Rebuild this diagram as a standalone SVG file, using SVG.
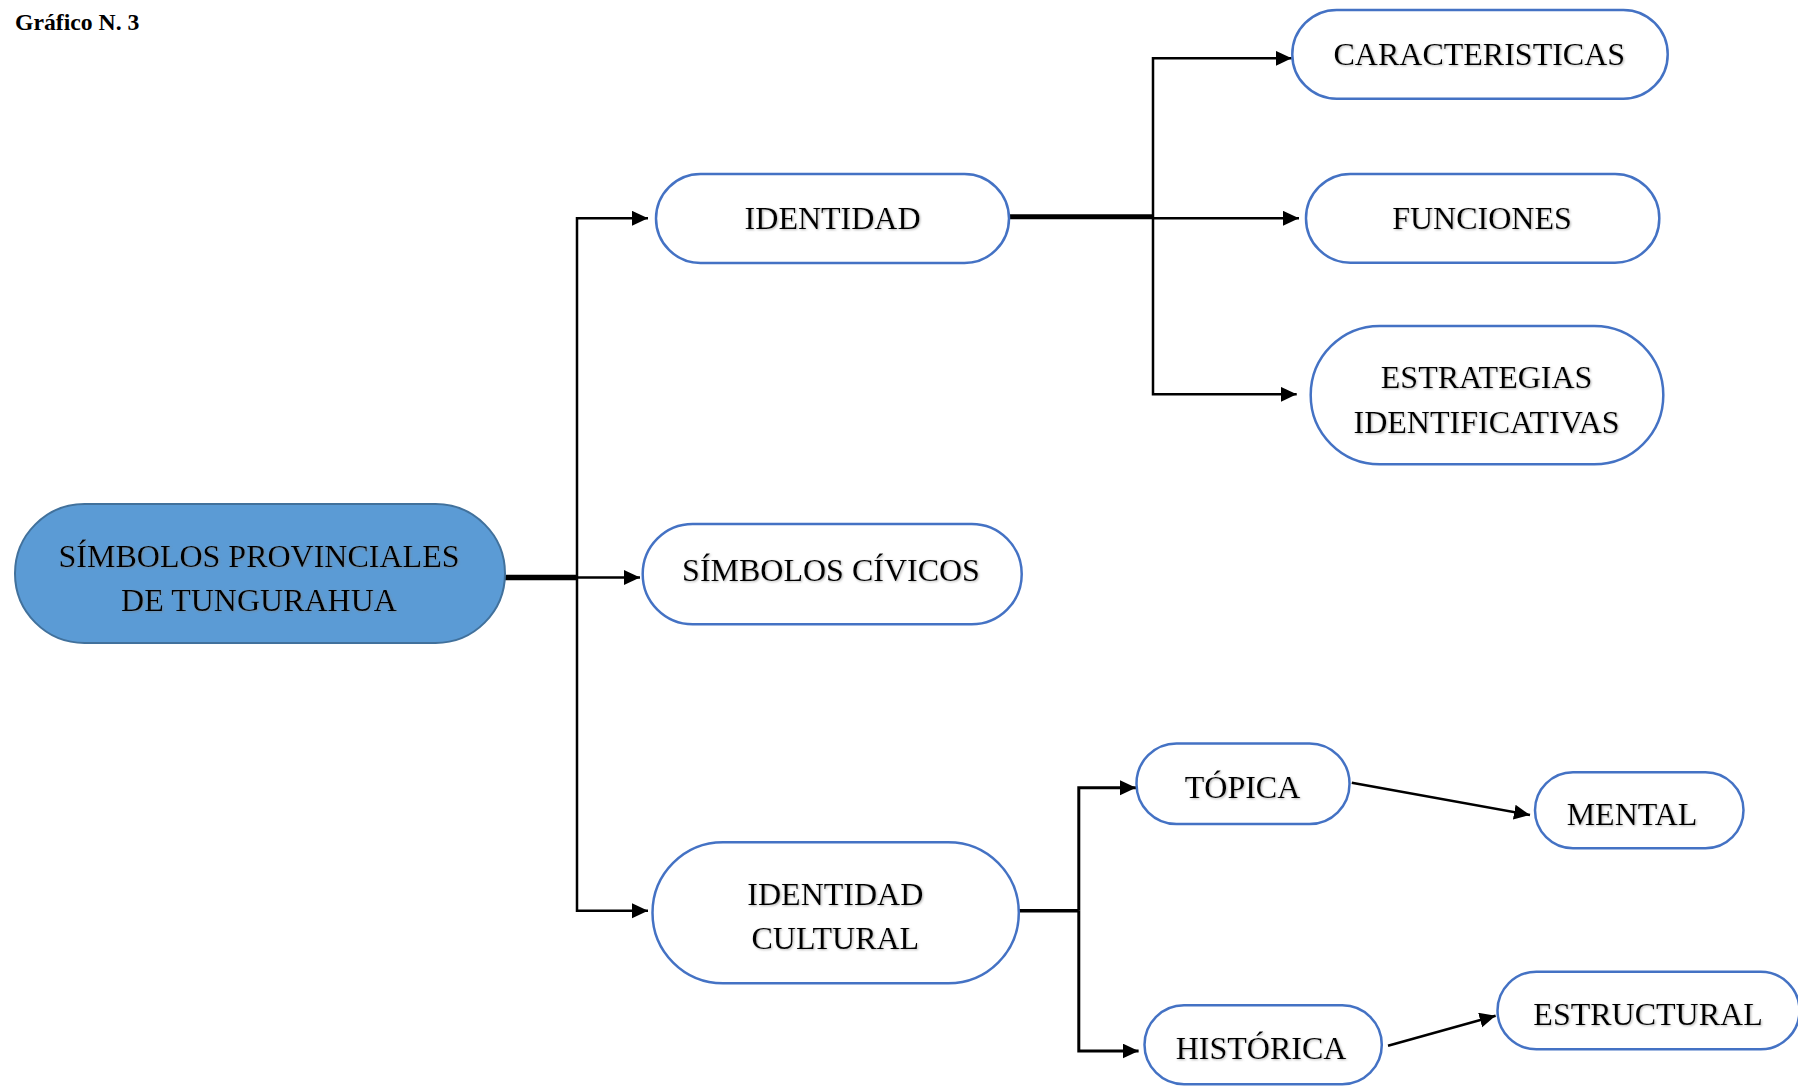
<svg xmlns="http://www.w3.org/2000/svg" width="1798" height="1086" viewBox="0 0 1798 1086">
<defs>
<marker id="arr" markerUnits="userSpaceOnUse" markerWidth="17" markerHeight="16" refX="16" refY="7.5" orient="auto">
<path d="M0,0 L16,7.5 L0,15 z" fill="#000"/>
</marker>
<filter id="sh" x="-5%" y="-20%" width="110%" height="140%">
<feDropShadow dx="1" dy="1" stdDeviation="0.8" flood-color="#7f7f7f" flood-opacity="0.6"/>
</filter>
</defs>
<style>
.node{fill:#fff;stroke:#4472C4;stroke-width:2.5}
.root{fill:#5B9BD5;stroke:#41719C;stroke-width:2}
.lbl{font-family:"Liberation Serif","Times New Roman",serif;font-size:32px;fill:#000;text-anchor:middle;filter:url(#sh)}
.thin{fill:none;stroke:#000;stroke-width:2.5}
.thick{fill:none;stroke:#000;stroke-width:5.5}
.arrow{marker-end:url(#arr)}
.title{font-family:"Liberation Serif","Times New Roman",serif;font-size:23.7px;font-weight:bold;fill:#000}
</style>
<rect width="1798" height="1086" fill="#fff"/>
<text class="title" x="15" y="30">Gráfico N. 3</text>

<g id="connectors">
<path class="thick" d="M505,577.5 H577"/>
<path class="thin arrow" d="M577,577.5 H640"/>
<path class="thin arrow" d="M577,577.5 V218.3 H648"/>
<path class="thin arrow" d="M577,577.5 V910.7 H648"/>
<path class="thick" d="M1009,216.8 H1153" style="stroke-width:5"/>
<path class="thin arrow" d="M1153,217 V58.3 H1291.7"/>
<path class="thin arrow" d="M1153,218.3 H1299"/>
<path class="thin arrow" d="M1153,217 V394.3 H1296.7"/>
<path class="thin" d="M1019,910.8 H1078.8" style="stroke-width:3.5"/>
<path class="thin arrow" d="M1078.8,910.8 V787.7 H1136" style="stroke-width:3"/>
<path class="thin arrow" d="M1078.8,910.8 V1051 H1138.6" style="stroke-width:3"/>
<path class="thin arrow" d="M1351.8,782.7 L1530,815"/>
<path class="thin arrow" d="M1388,1045.7 L1495.6,1015.7"/>
</g>

<g id="root">
<rect class="root" x="15" y="504" width="490" height="139" rx="69.5"/>
<text class="lbl" x="259" y="567">SÍMBOLOS PROVINCIALES</text>
<text class="lbl" x="259" y="610.7">DE TUNGURAHUA</text>
</g>

<g id="identidad">
<rect class="node" x="656" y="174" width="353" height="89" rx="44.5"/>
<text class="lbl" x="832.6" y="229">IDENTIDAD</text>
</g>

<g id="simbolos-civicos">
<rect class="node" x="642.7" y="524" width="379" height="100.3" rx="50"/>
<text class="lbl" x="831" y="581">SÍMBOLOS CÍVICOS</text>
</g>

<g id="identidad-cultural">
<rect class="node" x="652.5" y="842.3" width="366.3" height="141" rx="70.5"/>
<text class="lbl" x="835.3" y="905">IDENTIDAD</text>
<text class="lbl" x="835.3" y="949">CULTURAL</text>
</g>

<g id="caracteristicas">
<rect class="node" x="1292.3" y="10" width="375.4" height="88.7" rx="44.3"/>
<text class="lbl" x="1479.3" y="65">CARACTERISTICAS</text>
</g>

<g id="funciones">
<rect class="node" x="1306" y="174" width="353.3" height="88.7" rx="44.3"/>
<text class="lbl" x="1482" y="229">FUNCIONES</text>
</g>

<g id="estrategias">
<rect class="node" x="1310.7" y="326" width="352.6" height="138.3" rx="69"/>
<text class="lbl" x="1486.6" y="387.7">ESTRATEGIAS</text>
<text class="lbl" x="1486.6" y="432.7">IDENTIFICATIVAS</text>
</g>

<g id="topica">
<rect class="node" x="1136.5" y="743.5" width="213" height="80.5" rx="40"/>
<text class="lbl" x="1242.5" y="798">TÓPICA</text>
</g>

<g id="historica">
<rect class="node" x="1144.5" y="1005.3" width="237.3" height="79" rx="39.5"/>
<text class="lbl" x="1261" y="1059">HISTÓRICA</text>
</g>

<g id="mental">
<rect class="node" x="1535" y="772.3" width="208.5" height="76" rx="38"/>
<text class="lbl" x="1632" y="825">MENTAL</text>
</g>

<g id="estructural">
<rect class="node" x="1497.5" y="971.7" width="302" height="77.6" rx="38.8"/>
<text class="lbl" x="1648" y="1025">ESTRUCTURAL</text>
</g>
</svg>
